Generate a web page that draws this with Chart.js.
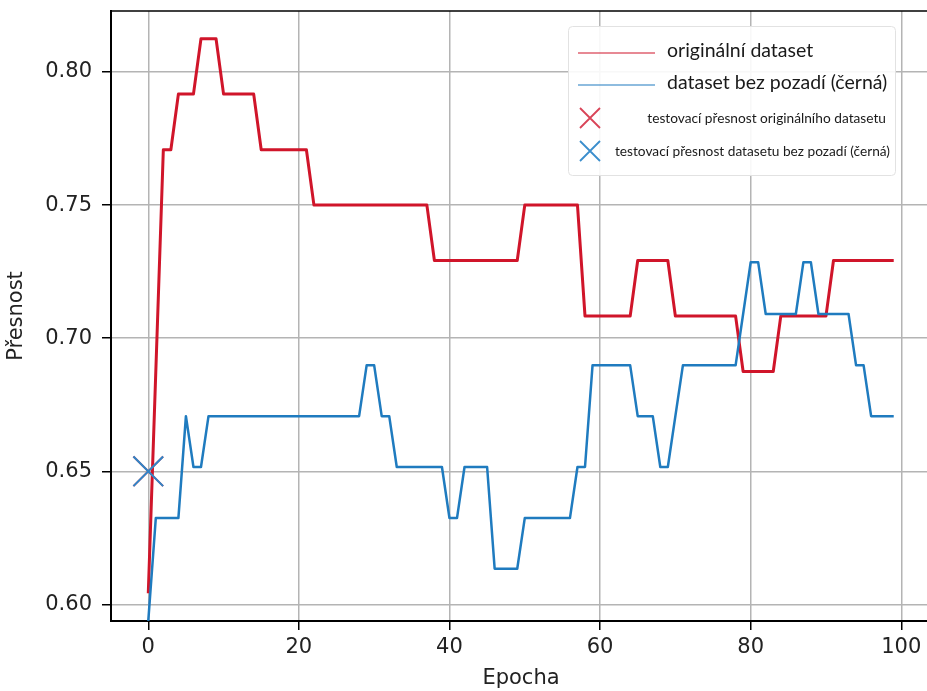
<!DOCTYPE html>
<html>
<head>
<meta charset="utf-8">
<script src="https://cdn.jsdelivr.net/npm/chart.js@4"></script>
<style>
    html, body { margin: 0; padding: 0; background: #fff; overflow: hidden; }
    #wrap { width: 931px; height: 691px; }
</style>
</head>
<body>
<div id="wrap"><canvas id="accChart" width="931" height="691"></canvas></div>
<script>
// epochy 0..99
const epochs = Array.from({ length: 100 }, (_, i) => i);

// přesnost - originální dataset
const accOriginal = [
    0.6042, 0.6875, 0.7708, 0.7708, 0.7917, 0.7917, 0.7917, 0.8125, 0.8125, 0.8125,
    0.7917, 0.7917, 0.7917, 0.7917, 0.7917, 0.7708, 0.7708, 0.7708, 0.7708, 0.7708,
    0.7708, 0.7708, 0.75, 0.75, 0.75, 0.75, 0.75, 0.75, 0.75, 0.75,
    0.75, 0.75, 0.75, 0.75, 0.75, 0.75, 0.75, 0.75, 0.7292, 0.7292,
    0.7292, 0.7292, 0.7292, 0.7292, 0.7292, 0.7292, 0.7292, 0.7292, 0.7292, 0.7292,
    0.75, 0.75, 0.75, 0.75, 0.75, 0.75, 0.75, 0.75, 0.7083, 0.7083,
    0.7083, 0.7083, 0.7083, 0.7083, 0.7083, 0.7292, 0.7292, 0.7292, 0.7292, 0.7292,
    0.7083, 0.7083, 0.7083, 0.7083, 0.7083, 0.7083, 0.7083, 0.7083, 0.7083, 0.6875,
    0.6875, 0.6875, 0.6875, 0.6875, 0.7083, 0.7083, 0.7083, 0.7083, 0.7083, 0.7083,
    0.7083, 0.7292, 0.7292, 0.7292, 0.7292, 0.7292, 0.7292, 0.7292, 0.7292, 0.7292
];

// přesnost - dataset bez pozadí (černá)
const accNoBg = [
    0.5938, 0.6324, 0.6324, 0.6324, 0.6324, 0.6707, 0.6516, 0.6516, 0.6707, 0.6707,
    0.6707, 0.6707, 0.6707, 0.6707, 0.6707, 0.6707, 0.6707, 0.6707, 0.6707, 0.6707,
    0.6707, 0.6707, 0.6707, 0.6707, 0.6707, 0.6707, 0.6707, 0.6707, 0.6707, 0.6898,
    0.6898, 0.6707, 0.6707, 0.6516, 0.6516, 0.6516, 0.6516, 0.6516, 0.6516, 0.6516,
    0.6324, 0.6324, 0.6516, 0.6516, 0.6516, 0.6516, 0.6134, 0.6134, 0.6134, 0.6134,
    0.6324, 0.6324, 0.6324, 0.6324, 0.6324, 0.6324, 0.6324, 0.6516, 0.6516, 0.6898,
    0.6898, 0.6898, 0.6898, 0.6898, 0.6898, 0.6707, 0.6707, 0.6707, 0.6516, 0.6516,
    0.6707, 0.6898, 0.6898, 0.6898, 0.6898, 0.6898, 0.6898, 0.6898, 0.6898, 0.7091,
    0.7285, 0.7285, 0.7091, 0.7091, 0.7091, 0.7091, 0.7091, 0.7285, 0.7285, 0.7091,
    0.7091, 0.7091, 0.7091, 0.7091, 0.6898, 0.6898, 0.6707, 0.6707, 0.6707, 0.6707
];

// testovací přesnost
const testEpoch = [0];
const testAccOriginal = [0.65];
const testAccNoBg = [0.65];

// popisky os
const xTicks = [0, 20, 40, 60, 80, 100];
const yTicks = [0.60, 0.65, 0.70, 0.75, 0.80];

const legendLabels = [
    'originální dataset',
    'dataset bez pozadí (černá)',
    'testovací přesnost originálního datasetu',
    'testovací přesnost datasetu bez pozadí (černá)'
];

const RED = '#d0152a';
const BLUE = '#1f7bbf';
const GRID = '#b4b4b4';
const axisFont = { family: "'DejaVu Sans', sans-serif", size: 21 };

const toPoints = (xs, ys) => xs.map((x, i) => ({ x: x, y: ys[i] }));
const noPadding = () => ({ left: 0, top: 0, right: 0, bottom: 0 });
// mřížka jen u popsaných hodnot
const gridColor = (list) => (c) => (c.tick && list.includes(c.tick.value) ? GRID : 'rgba(0,0,0,0)');

// horní okraj rámečku
const framePlugin = {
    id: 'frame',
    afterDatasetsDraw(chart) {
        const a = chart.chartArea;
        const ctx = chart.ctx;
        ctx.save();
        ctx.strokeStyle = '#000';
        ctx.lineWidth = 1.5;
        ctx.beginPath();
        ctx.moveTo(a.left, a.top);
        ctx.lineTo(a.right, a.top);
        ctx.stroke();
        ctx.restore();
    }
};

// legenda vpravo nahoře
const legendPlugin = {
    id: 'boxLegend',
    afterDraw(chart) {
        const ctx = chart.ctx;
        ctx.save();
        ctx.fillStyle = 'rgba(255,255,255,0.9)';
        ctx.strokeStyle = '#e2e2e2';
        ctx.lineWidth = 1;
        ctx.beginPath();
        ctx.roundRect(568.5, 26.5, 327, 149, 4);
        ctx.fill();
        ctx.stroke();

        ctx.lineWidth = 1.2;
        ctx.strokeStyle = RED;
        ctx.beginPath(); ctx.moveTo(578, 53); ctx.lineTo(655, 53); ctx.stroke();
        ctx.strokeStyle = BLUE;
        ctx.beginPath(); ctx.moveTo(578, 85); ctx.lineTo(655, 85); ctx.stroke();

        const cross = (cx, cy, col) => {
            ctx.strokeStyle = col;
            ctx.lineWidth = 1.8;
            ctx.beginPath();
            ctx.moveTo(cx - 10, cy - 10); ctx.lineTo(cx + 10, cy + 10);
            ctx.moveTo(cx - 10, cy + 10); ctx.lineTo(cx + 10, cy - 10);
            ctx.stroke();
        };
        cross(590, 118, '#d94357');
        cross(590, 151, '#3a8dcc');

        ctx.fillStyle = '#1a1a1a';
        ctx.textBaseline = 'middle';
        ctx.textAlign = 'left';
        ctx.font = '19.5px Lato';
        ctx.fillText(legendLabels[0], 667, 51);
        ctx.fillText(legendLabels[1], 667, 83);
        ctx.font = '13.7px Lato';
        ctx.textAlign = 'right';
        ctx.fillText(legendLabels[2], 886, 119);
        ctx.fillText(legendLabels[3], 890, 152);
        ctx.restore();
    }
};

const accChart = new Chart(document.getElementById('accChart'), {
    type: 'line',
    data: {
        datasets: [{
            label: legendLabels[0],
            data: toPoints(epochs, accOriginal),
            borderColor: RED,
            borderWidth: 3,
            borderJoinStyle: 'round',
            pointRadius: 0,
            tension: 0,
            order: 4
        }, {
            label: legendLabels[1],
            data: toPoints(epochs, accNoBg),
            borderColor: BLUE,
            borderWidth: 2.5,
            borderJoinStyle: 'round',
            pointRadius: 0,
            tension: 0,
            order: 3
        }, {
            label: legendLabels[2],
            data: toPoints(testEpoch, testAccOriginal),
            showLine: false,
            pointStyle: 'crossRot',
            pointRadius: 21,
            pointBorderWidth: 2,
            borderColor: '#d94357',
            clip: false,
            order: 2
        }, {
            label: legendLabels[3],
            data: toPoints(testEpoch, testAccNoBg),
            showLine: false,
            pointStyle: 'crossRot',
            pointRadius: 21,
            pointBorderWidth: 2,
            borderColor: '#2f86c8',
            clip: false,
            order: 1
        }]
    },
    options: {
        responsive: false,
        animation: false,
        layout: { autoPadding: false, padding: { top: 11, right: 0, bottom: 0, left: 0 } },
        scales: {
            x: {
                type: 'linear',
                min: -4.95,
                max: 103.95,
                afterBuildTicks: (scale) => { scale.ticks = xTicks.map(v => ({ value: v })); },
                afterFit: (scale) => {
                    scale.height = 70;
                    scale.getPadding = noPadding;
                },
                ticks: {
                    color: '#222',
                    font: axisFont,
                    padding: 5,
                    maxRotation: 0,
                    callback: (v) => String(v)
                },
                grid: { color: gridColor(xTicks), lineWidth: 1.5, tickLength: 9, tickColor: '#000', tickWidth: 1.5 },
                border: { display: true, color: '#000', width: 2 },
                title: { display: true, text: 'Epocha', color: '#222', font: axisFont, padding: { top: 0, bottom: 0 } }
            },
            y: {
                type: 'linear',
                min: 0.59375,
                max: 0.822917,
                afterBuildTicks: (scale) => { scale.ticks = yTicks.map(v => ({ value: v })); },
                afterFit: (scale) => {
                    scale.width = 111;
                    scale.getPadding = noPadding;
                },
                ticks: {
                    color: '#222',
                    font: axisFont,
                    padding: 10,
                    callback: (v) => v.toFixed(2)
                },
                grid: { color: gridColor(yTicks), lineWidth: 1.5, tickLength: 9, tickColor: '#000', tickWidth: 1.5 },
                border: { display: true, color: '#000', width: 2 },
                title: { display: true, text: 'Přesnost', color: '#222', font: axisFont, padding: { top: 4, bottom: 0 } }
            }
        },
        plugins: {
            legend: { display: false },
            tooltip: { enabled: false }
        }
    },
    plugins: [framePlugin, legendPlugin]
});
</script>
</body>
</html>
